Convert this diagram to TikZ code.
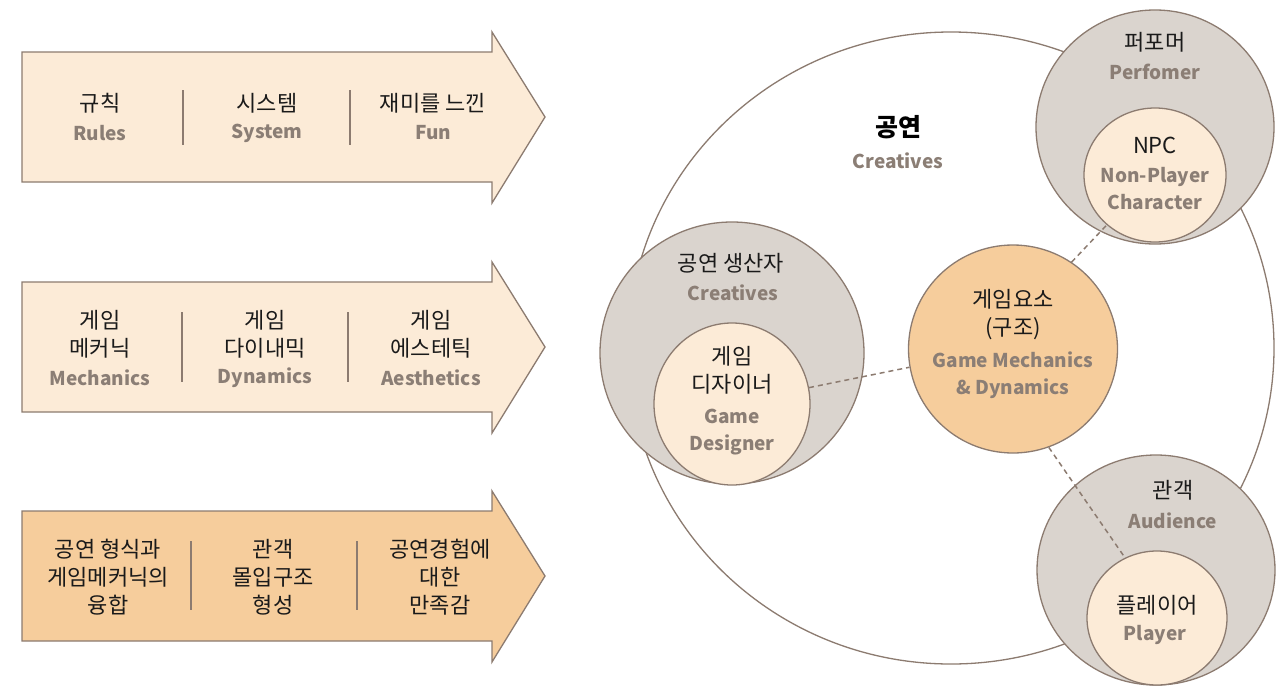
\documentclass[tikz,border=0pt]{standalone}
\usepackage{fontspec}
\setmainfont{Noto Sans CJK KR}
\usetikzlibrary{shapes.geometric}
\definecolor{edge}{HTML}{8C7B70}
\definecolor{cream}{HTML}{FCEBD7}
\definecolor{peach}{HTML}{F6CD9C}
\definecolor{stone}{HTML}{DAD4CE}
\definecolor{sub}{HTML}{8B7E75}
\definecolor{ink}{HTML}{1A1A1A}
\tikzset{
  kr/.style={font=\fontsize{22}{28}\selectfont, text=ink, align=center, inner sep=0pt},
  en/.style={font=\bfseries\fontsize{19}{27}\selectfont, text=sub, align=center, inner sep=0pt},
  arrowshape/.style={draw=edge, line width=1.3pt, line join=miter},
  divider/.style={draw=edge, line width=1.5pt},
  blob/.style={ellipse, draw=edge, line width=1.3pt, inner sep=0pt},
  link/.style={draw=edge, line width=1.5pt, dash pattern=on 5pt off 4pt},
}
\newcommand\flowarrow[2]{%
  \path[arrowshape, fill=#2] (22,#1-65) -- (492,#1-65) -- (492,#1-85) -- (545,#1) -- (492,#1+86) -- (492,#1+65) -- (22,#1+65) -- cycle;}
\begin{document}
\begin{tikzpicture}[x=1pt,y=-1pt]
\useasboundingbox[fill=white] (0,0) rectangle (1288,686);

% ---------- left arrows ----------
\flowarrow{117}{cream}
\flowarrow{347}{cream}
\flowarrow{576}{peach}

\draw[divider] (183,90) -- (183,145);
\draw[divider] (350,90) -- (350,145);
\node[kr] (a1k) at (100,103) {규칙};
\node[en] (a1e) at (100,133) {Rules};
\node[kr] (a2k) at (267,103) {시스템};
\node[en] (a2e) at (267,133) {System};
\node[kr] (a3k) at (433,103) {재미를 느낀};
\node[en] (a3e) at (433,133) {Fun};

\draw[divider] (182,312) -- (182,382);
\draw[divider] (348,312) -- (348,382);
\node[kr] (b1k) at (100,334) {게임\\메커닉};
\node[en] (b1e) at (100,378) {Mechanics};
\node[kr] (b2k) at (265,334) {게임\\다이내믹};
\node[en] (b2e) at (265,378) {Dynamics};
\node[kr] (b3k) at (431,334) {게임\\에스테틱};
\node[en] (b3e) at (431,378) {Aesthetics};

\draw[divider] (191,541) -- (191,610);
\draw[divider] (357,541) -- (357,610);
\node[kr] (c1k) at (108,577) {공연 형식과\\게임메커닉의\\융합};
\node[kr] (c2k) at (273,577) {관객\\몰입구조\\형성};
\node[kr] (c3k) at (440,577) {공연경험에\\대한\\만족감};

% ---------- right diagram ----------
\node[blob, fill=white, minimum width=646pt, minimum height=632pt] (show) at (951,348) {};
\node[font=\bfseries\fontsize{25}{28}\selectfont, text=black, inner sep=0pt] (showk) at (898,127) {공연};
\node[en] (showe) at (898,161) {Creatives};

% performer
\node[blob, fill=stone, minimum width=238pt, minimum height=234pt] (perf) at (1155,127) {};
\node[blob, fill=cream, minimum width=142pt, minimum height=134pt] (npc) at (1155,175) {};
\node[kr] (perfk) at (1155,42) {퍼포머};
\node[en] (perfe) at (1155,72) {Perfomer};
\node[kr] (npck) at (1155,145) {NPC};
\node[en] (npce) at (1155,189) {Non-Player\\Character};

% creatives
\node[blob, fill=stone, minimum width=264pt, minimum height=262pt] (crea) at (732,353) {};
\node[blob, fill=cream, minimum width=156pt, minimum height=162pt] (gd) at (732,404) {};
\node[kr] (creak) at (731,263) {공연 생산자};
\node[en] (creae) at (733,293) {Creatives};
\node[kr] (gdk) at (732,370) {게임\\디자이너};
\node[en] (gde) at (732,432) {Game\\Designer};

% game elements
\node[blob, fill=peach, minimum width=209pt, minimum height=208pt] (ge) at (1013,349) {};
\node[kr] (gek) at (1013,315) {게임요소\\(구조)};
\node[en] (gee) at (1013,375) {Game Mechanics\\\& Dynamics};

% audience
\node[blob, fill=stone, minimum width=238pt, minimum height=230pt] (aud) at (1156,570) {};
\node[blob, fill=cream, minimum width=140pt, minimum height=134pt] (pl) at (1157,618) {};
\node[kr] (audk) at (1173,490) {관객};
\node[en] (aude) at (1173,521) {Audience};
\node[kr] (plk) at (1157,605) {플레이어};
\node[en] (ple) at (1155,635) {Player};

% dashed links
\draw[link] (gd.12) -- (ge.190);
\draw[link] (ge.56) -- (npc.226);
\draw[link] (ge.-70) -- (pl.118);
\end{tikzpicture}
\end{document}
